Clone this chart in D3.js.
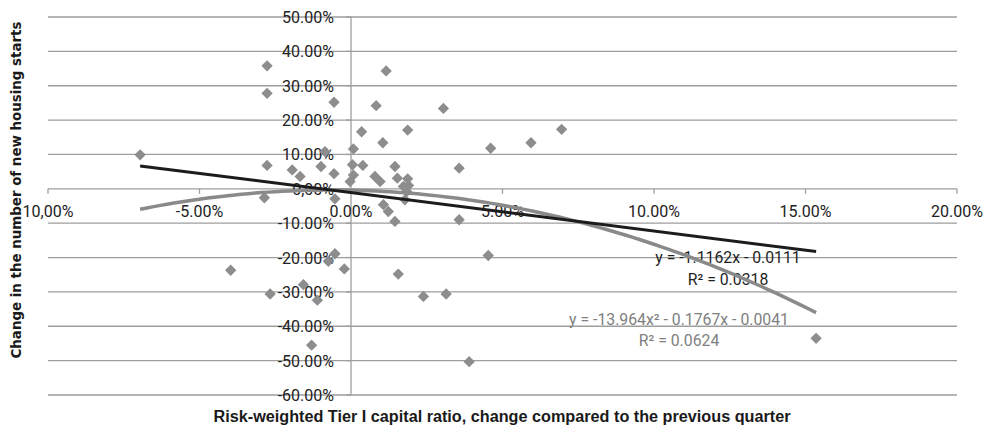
<!DOCTYPE html>
<html lang="en">
<head>
    <meta charset="UTF-8">
    <title>Tier I capital ratio vs new housing starts</title>
    <script src="https://d3js.org/d3.v7.min.js"></script>
    <style>
        body { margin: 0; background: #fff; }
        .tick-label { font-family: Roboto, "Liberation Sans", sans-serif; font-size: 16px; fill: #222; }
        .eq { font-family: Roboto, "Liberation Sans", sans-serif; font-size: 15.8px; }
    </style>
</head>
<body>
<script>

    // change of Tier I ratio (%), change in housing starts (%)
    var xValues = [-6.96, -3.97, -2.77, -2.77, -2.77, -2.86, -2.67, -1.94, -1.68, -1.57,
        -1.30, -1.11, -0.99, -0.86, -0.75, -0.56, -0.56, -0.53, -0.53, -0.22,
        -0.03, 0.08, 0.05, 0.08, 0.35, 0.39, 0.83, 1.05, 1.16, 0.79,
        0.96, 1.45, 1.53, 1.87, 1.87, 1.73, 1.78, 1.07, 1.23, 1.45,
        1.56, 2.39, 3.05, 3.14, 3.57, 3.57, 3.90, 4.53, 4.61, 5.94,
        6.95, 15.35, 1.90, 1.84];
    var yValues = [9.9, -23.7, 35.8, 27.8, 6.8, -2.6, -30.6, 5.5, 3.6, -27.9,
        -45.5, -32.4, 6.5, 10.8, -21.1, 25.2, 4.4, -2.9, -18.9, -23.3,
        2.1, 11.6, 7.0, 4.0, 16.6, 6.8, 24.2, 13.4, 34.3, 3.6,
        2.1, 6.5, 3.1, 17.1, 2.9, 0.7, -3.2, -4.6, -6.6, -9.5,
        -24.8, -31.3, 23.4, -30.6, 6.0, -9.0, -50.3, -19.4, 11.8, 13.4,
        17.3, -43.5, 1.0, -0.8];

    var xTicks = [-10, -5, 0, 5, 10, 15, 20];
    var xTickLabels = ["10,00%", "-5.00%", "0.00%", "5.00%", "10.00%", "15.00%", "20.00%"];
    var yTicks = [50, 40, 30, 20, 10, 0, -10, -20, -30, -40, -50, -60];
    var yTickLabels = ["50.00%", "40.00%", "30.00%", "20.00%", "10.00%", "0,00%", "-10.00%",
        "-20.00%", "-30.00%", "-40.00%", "-50.00%", "-60.00%"];

    // trendline coefficients as printed on the chart (x and y as fractions)
    var linearCoef = [-1.1162, -0.0111];          // slope, intercept
    var polyCoef = [-13.964, -0.1767, -0.0041];   // x^2, x, const
    var linearLabel = ["y = -1.1162x - 0.0111", "R² = 0.0318"];
    var polyLabel = ["y = -13.964x² - 0.1767x - 0.0041", "R² = 0.0624"];

    var width = 983;
    var height = 428;

    var svg = d3.select("body")
        .append("svg")
        .attr("width", width)
        .attr("height", height);

    var x = d3.scaleLinear().domain([-10, 20]).range([48, 957]);
    var y = d3.scaleLinear().domain([-60, 50]).range([395, 17]);

    // horizontal gridlines
    svg.selectAll(".grid")
        .data(yTicks)
        .enter()
        .append("line")
        .attr("x1", x(-10))
        .attr("x2", x(20))
        .attr("y1", function(d) { return y(d); })
        .attr("y2", function(d) { return y(d); })
        .style("stroke", "#9e9e9e")
        .style("stroke-width", 1.3);

    // vertical axis line + ticks
    svg.append("line")
        .attr("x1", x(0)).attr("x2", x(0))
        .attr("y1", y(50)).attr("y2", y(-60))
        .style("stroke", "#9e9e9e")
        .style("stroke-width", 1.3);

    svg.selectAll(".ytick")
        .data(yTicks)
        .enter()
        .append("line")
        .attr("x1", x(0) - 5).attr("x2", x(0))
        .attr("y1", function(d) { return y(d); })
        .attr("y2", function(d) { return y(d); })
        .style("stroke", "#9e9e9e")
        .style("stroke-width", 1.3);

    // horizontal axis ticks (axis itself is the 0 gridline)
    svg.selectAll(".xtick")
        .data(xTicks)
        .enter()
        .append("line")
        .attr("x1", function(d) { return x(d); })
        .attr("x2", function(d) { return x(d); })
        .attr("y1", y(0)).attr("y2", y(0) + 5)
        .style("stroke", "#9e9e9e")
        .style("stroke-width", 1.3);

    // tick labels
    svg.selectAll(".ylab")
        .data(yTicks)
        .enter()
        .append("text")
        .attr("class", "tick-label")
        .attr("x", 334)
        .attr("y", function(d) { return y(d) + 6; })
        .attr("text-anchor", "end")
        .text(function(d, i) { return yTickLabels[i]; });

    svg.selectAll(".xlab")
        .data(xTicks)
        .enter()
        .append("text")
        .attr("class", "tick-label")
        .attr("x", function(d) { return x(d); })
        .attr("y", y(0) + 28)
        .attr("text-anchor", "middle")
        .text(function(d, i) { return xTickLabels[i]; });

    // axis titles
    svg.append("text")
        .attr("transform", "translate(21," + 190 + ") rotate(-90)")
        .attr("text-anchor", "middle")
        .style("font-family", "'DejaVu Sans', sans-serif")
        .style("font-weight", "bold")
        .style("font-size", "13.4px")
        .style("fill", "#1a1a1a")
        .text("Change in the number of new housing starts");

    svg.append("text")
        .attr("x", 502)
        .attr("y", 422)
        .attr("text-anchor", "middle")
        .attr("textLength", 577)
        .attr("lengthAdjust", "spacingAndGlyphs")
        .style("font-family", "'Liberation Sans Narrow', 'Liberation Sans', sans-serif")
        .style("font-weight", "bold")
        .style("font-size", "16px")
        .style("fill", "#1a1a1a")
        .text("Risk-weighted Tier I capital ratio, change compared to the previous quarter");

    // trendline equations
    svg.selectAll(".eqlin")
        .data(linearLabel)
        .enter()
        .append("text")
        .attr("class", "eq")
        .attr("x", 728)
        .attr("y", function(d, i) { return 263 + i * 22; })
        .attr("text-anchor", "middle")
        .style("fill", "#1f1f1f")
        .text(function(d) { return d; });

    svg.selectAll(".eqpoly")
        .data(polyLabel)
        .enter()
        .append("text")
        .attr("class", "eq")
        .attr("x", 679)
        .attr("y", function(d, i) { return 325 + i * 21; })
        .attr("text-anchor", "middle")
        .style("fill", "#808080")
        .text(function(d) { return d; });

    // scatter points
    var points = xValues.map(function(v, i) { return {x: v, y: yValues[i]}; });
    var diamond = d3.symbol().type(d3.symbolSquare).size(64);

    svg.selectAll(".pt")
        .data(points)
        .enter()
        .append("path")
        .attr("d", diamond)
        .attr("transform", function(d) {
            return "translate(" + x(d.x) + "," + y(d.y) + ") rotate(45)";
        })
        .style("fill", "#8d8d8d");

    // trendlines over the data range
    var xMin = d3.min(xValues), xMax = d3.max(xValues);
    var samples = d3.range(0, 101).map(function(k) { return xMin + (xMax - xMin) * k / 100; });

    var line = d3.line()
        .x(function(d) { return x(d[0]); })
        .y(function(d) { return y(d[1]); });

    var polyPts = samples.map(function(v) {
        var f = v / 100;
        return [v, (polyCoef[0] * f * f + polyCoef[1] * f + polyCoef[2]) * 100];
    });
    var linPts = [xMin, xMax].map(function(v) {
        return [v, (linearCoef[0] * v / 100 + linearCoef[1]) * 100];
    });

    svg.append("path")
        .attr("d", line(polyPts))
        .attr("fill", "none")
        .style("stroke", "#8a8a8a")
        .style("stroke-width", 3.5);

    svg.append("path")
        .attr("d", line(linPts))
        .attr("fill", "none")
        .style("stroke", "#1c1c1c")
        .style("stroke-width", 3);

</script>
</body>
</html>
